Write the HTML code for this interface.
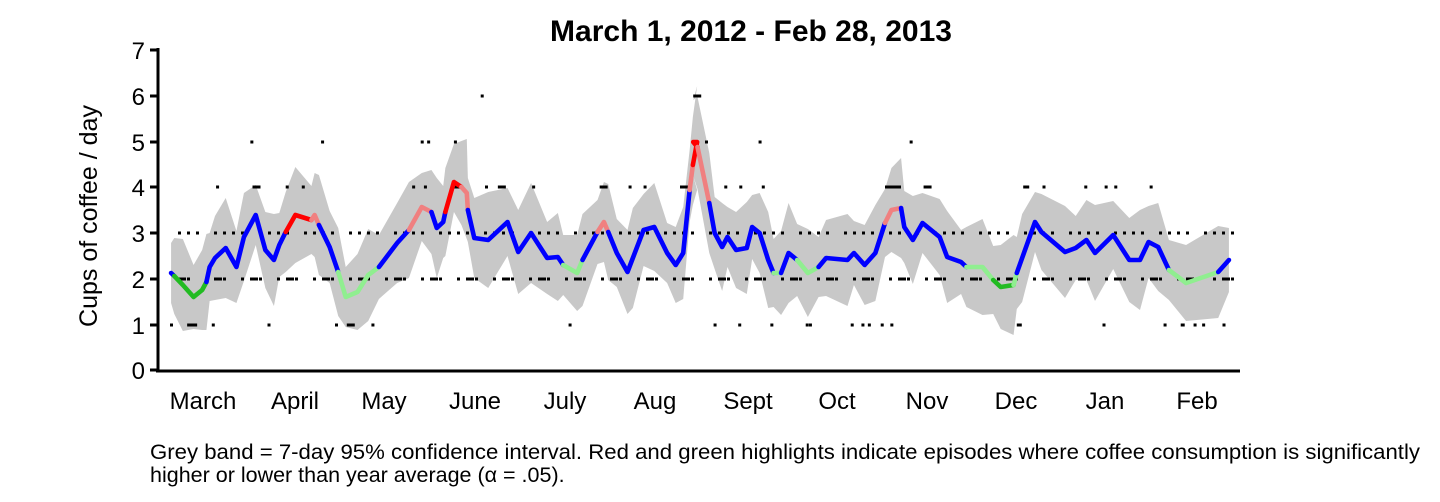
<!DOCTYPE html>
<html><head><meta charset="utf-8"><style>
body{margin:0;background:#fff;width:1440px;height:502px;overflow:hidden;font-family:"Liberation Sans",sans-serif}
svg{position:absolute;left:0;top:0}
</style></head><body>
<svg id="s" width="1440" height="502" xmlns="http://www.w3.org/2000/svg" font-family="Liberation Sans, sans-serif">
<text x="751" y="41" text-anchor="middle" font-size="30" font-weight="bold">March 1, 2012 - Feb 28, 2013</text>
<text transform="translate(97,216) rotate(-90)" text-anchor="middle" font-size="25">Cups of coffee / day</text>
<g id="band"></g>
<g id="dots" stroke="#000" stroke-width="3"></g>
<g id="line" fill="none" stroke-width="4.6" stroke-linejoin="round" stroke-linecap="round"></g>
<g stroke="#000" stroke-width="3">
<line x1="158" y1="48" x2="158" y2="372"/>
<line x1="156" y1="371" x2="1240" y2="371"/>
<line x1="150" y1="50" x2="158" y2="50"/><line x1="150" y1="96" x2="158" y2="96"/><line x1="150" y1="142" x2="158" y2="142"/><line x1="150" y1="187" x2="158" y2="187"/><line x1="150" y1="233" x2="158" y2="233"/><line x1="150" y1="279" x2="158" y2="279"/><line x1="150" y1="325" x2="158" y2="325"/><line x1="150" y1="370" x2="158" y2="370"/>
</g>
<g font-size="24" text-anchor="end">
<text x="145" y="59">7</text><text x="145" y="105">6</text><text x="145" y="151">5</text><text x="145" y="196">4</text><text x="145" y="242">3</text><text x="145" y="288">2</text><text x="145" y="334">1</text><text x="145" y="379">0</text>
</g>
<g font-size="24" text-anchor="middle">
<text x="203" y="409">March</text><text x="295" y="409">April</text><text x="384" y="409">May</text><text x="475" y="409">June</text><text x="565" y="409">July</text><text x="655" y="409">Aug</text><text x="748" y="409">Sept</text><text x="837" y="409">Oct</text><text x="927" y="409">Nov</text><text x="1016" y="409">Dec</text><text x="1105" y="409">Jan</text><text x="1197" y="409">Feb</text>
</g>
<text x="150" y="459" font-size="21.5" textLength="1270" lengthAdjust="spacingAndGlyphs">Grey band = 7-day 95% confidence interval. Red and green highlights indicate episodes where coffee consumption is significantly</text>
<text x="150" y="482" font-size="21.5">higher or lower than year average (α = .05).</text>
</svg>
<script>
var B='#0000ff',R='#ff0000',P='#f08080',G='#22bb22',L='#90ee90';
var p=[[169,273,B],[172,276,G],[180,285,G],[190,297,G],[198,290,G],[202,282,B],[205,267,B],[210,258,B],[220,248,B],[230,267,B],[237,237,B],[248,215,B],[257,250,B],[265,260,B],[270,245,B],[276,232,R],[285,215,R],[300,220,P],[303,215,P],[307,225,B],[317,247,B],[325,272,L],[332,297,L],[343,292,L],[353,275,L],[363,267,B],[380,243,B],[391,230,P],[403,207,P],[412,212,B],[417,228,B],[423,222,B],[425,212,R],[433,182,R],[440,187,P],[445,193,P],[446,210,B],[452,238,B],[465,240,B],[483,222,B],[493,252,B],[505,233,B],[520,258,B],[530,257,B],[535,265,L],[548,273,L],[553,260,B],[567,232,P],[573,222,P],[577,232,B],[585,253,B],[595,272,B],[600,258,B],[610,230,B],[620,227,B],[632,253,B],[640,265,B],[647,253,B],[653,190,P],[656,165,R],[660,142,R],[
693,142,R],[697,147,P],[708,203,B],[713,233,B],[720,247,B],[725,237,B],[733,250,B],[743,248,B],[748,227,B],[755,233,B],[763,260,B],[768,273,L],[775,273,B],[782,253,B],[790,260,L],[800,273,L],[810,267,B],[817,258,B],[837,260,B],[843,253,B],[853,265,B],[863,253,B],[872,223,P],[878,210,P],[887,208,B],[890,227,B],[898,240,B],[907,223,B],[923,237,B],[930,257,B],[943,262,B],[948,267,L],[963,267,L],[973,280,G],[980,287,G],[992,285,L],[995,273,B],[1000,258,B],[1012,222,B],[1018,232,B],[1040,252,B],[1050,248,B],[1060,240,B],[1068,253,B],[1085,235,B],[1100,260,B],[1110,260,B],[1118,242,B],[1127,247,B],[1137,270,L],[1153,283,L],[1183,272,B],[1193,260,B]];
function fx(x){return x<=670?140+(x-140)*3/2.8:690+(x-690)*3/2.8;}
p.forEach(function(q){q[0]=fx(q[0]);});
var ns='http://www.w3.org/2000/svg';
function el(g,t,a){var e=document.createElementNS(ns,t);for(var k in a)e.setAttribute(k,a[k]);document.getElementById(g).appendChild(e);return e;}
var up=[],lo=[];
for(var i=0;i<p.length;i++){var j=((i*37)%11)-5;up.push(p[i][0]+','+(p[i][1]-40-j*2-(p[i][1]<200?8:0)));lo.push(p[i][0]+','+(p[i][1]+40+j*2));}
el('band','polygon',{points:up.concat(lo.reverse()).join(' '),fill:'#c8c8c8'});
var i=0;
while(i<p.length-1){var c=p[i][2],pts=[p[i][0]+','+p[i][1]];var k=i;while(k<p.length-1&&p[k][2]==c){k++;pts.push(p[k][0]+','+p[k][1]);}el('line','polyline',{points:pts.join(' '),stroke:c});i=k;}
function row(y,xs,t){xs.forEach(function(x){var a=t?fx(x[0]):x[0];el('dots','line',{x1:a,y1:y,x2:a+(x[1]||3),y2:y});});}
var r3=[],r2=[];
for(var x=178;x<1236;x+=9){if((x*7)%5!=0)r3.push([x,(x%3==0)?8:3]);if((x*11)%4!=0)r2.push([x,(x%2==0)?8:3]);}
row(233,r3);row(279,r2);
row(187,[[211],[245,8],[276],[291],[394],[405],[431,8],[462],[474,8],[506],[569,8],[596],[610],[644,8],[722],[736],[757],[872,16],[908,8],[1001,6],[1019],[1058],[1077],[1086],[1119]],1);
row(142,[[243],[309],[402],[408],[433],[704],[754],[895]],1);
row(96,[[458],[693,8]],1);
row(325,[[168],[184,10],[207],[259],[322],[333,8],[356],[540],[712],[735],[765],[798],[801],[840],[850],[856],[868],[877],[995,5],[1075],[1132],[1148,4],[1160],[1168],[1187]],1);
</script>
</body></html>
